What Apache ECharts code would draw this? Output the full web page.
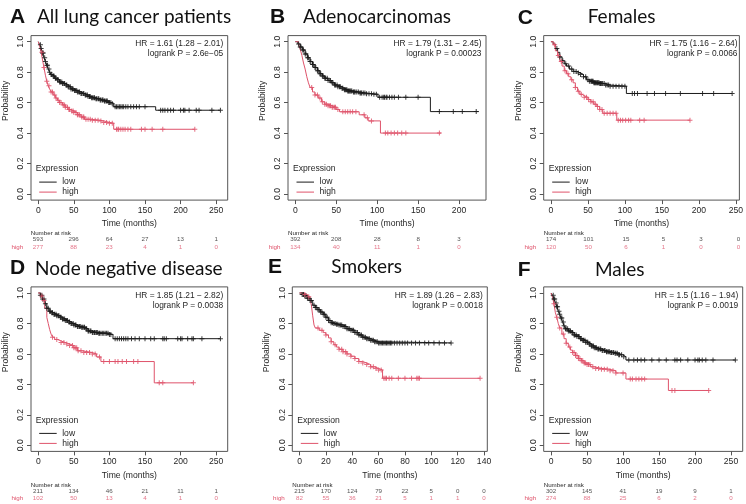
<!DOCTYPE html>
<html><head><meta charset="utf-8">
<script src="https://cdn.jsdelivr.net/npm/echarts@6/dist/echarts.min.js"></script>
<style>html,body{margin:0;padding:0;background:#fff}#c{width:746px;height:504px}</style>
</head><body><div id="c"></div>
<script>
// ---------------- DATA ----------------
const ticks250 = [0, 50, 100, 150, 200, 250];
const ticks200 = [0, 50, 100, 150, 200];
const ticks140 = [0, 20, 40, 60, 80, 100, 120, 140];
const probTicks = [0, 0.2, 0.4, 0.6, 0.8, 1.0];

// A: All lung cancer patients
const aLow = [[0,1],[2,0.98],[4,0.955],[6,0.925],[8,0.895],[10,0.87],[12,0.845],[14,0.82],[16,0.80],[18,0.785],[20,0.775],[23,0.76],[26,0.75],[30,0.735],[34,0.725],[38,0.715],[42,0.705],[46,0.69],[50,0.68],[55,0.67],[60,0.66],[65,0.65],[70,0.64],[75,0.632],[80,0.625],[86,0.617],[92,0.61],[98,0.60],[103,0.593],[106,0.573],[165,0.55],[256,0.55]];
const aHigh = [[0,1],[2,0.97],[4,0.93],[6,0.88],[8,0.83],[10,0.78],[12,0.74],[14,0.71],[16,0.69],[18,0.67],[21,0.65],[24,0.63],[27,0.615],[30,0.60],[34,0.585],[38,0.57],[42,0.555],[46,0.545],[50,0.535],[55,0.52],[60,0.505],[65,0.49],[75,0.485],[85,0.48],[92,0.47],[100,0.465],[106,0.425],[220,0.425]];
const aLowCens = [3,4,6,7,9,10,12,13,15,16,18,19,21,22,24,25,27,28,30,31,33,34,36,37,39,40,42,43,45,46,48,49,51,52,54,55,57,58,60,61,63,64,66,67,69,70,72,73,75,76,78,79,81,82,84,85,87,88,90,91,93,94,96,97,99,100,102,104,108,110,112,114,116,118,120,123,126,130,134,138,142,150,172,175,178,182,186,190,200,204,206,212,222,226,244,256];
const aHighCens = [5,8,12,15,18,20,23,25,28,30,32,35,37,38,41,43,44,47,49,50,53,55,56,58,61,63,64,67,70,73,76,80,84,88,92,96,100,104,110,112,113,116,119,122,126,130,145,150,160,175,220];
const aRiskT = [0, 50, 100, 150, 200, 250];
const aRiskLow = [593, 296, 64, 27, 13, 1];
const aRiskHigh = [277, 88, 23, 4, 1, 0];

// B: Adenocarcinomas
const bLow = [[0,1],[3,0.985],[6,0.965],[9,0.945],[12,0.92],[15,0.895],[18,0.87],[21,0.85],[24,0.83],[27,0.81],[30,0.79],[33,0.775],[36,0.76],[40,0.745],[44,0.73],[48,0.715],[52,0.705],[56,0.695],[60,0.685],[64,0.677],[70,0.67],[78,0.663],[86,0.658],[95,0.655],[101,0.635],[165,0.541],[224,0.541]];
const bHigh = [[0,1],[4,0.98],[6,0.95],[8,0.91],[10,0.86],[12,0.82],[14,0.77],[16,0.73],[18,0.70],[21,0.67],[24,0.65],[28,0.63],[32,0.605],[36,0.59],[40,0.58],[45,0.57],[50,0.555],[54,0.54],[78,0.52],[85,0.50],[89,0.48],[104,0.40],[178,0.40]];
const bLowCens = [4,6,7,9,10,12,13,15,16,18,19,21,22,24,25,27,28,30,31,33,34,36,37,39,40,42,43,45,46,48,49,51,52,54,55,57,58,60,61,62,63,64,65,66,67,68,69,71,72,73,75,77,79,80,81,83,85,87,90,93,96,99,103,106,108,109,111,112,115,118,121,126,135,150,176,193,204,221];
const bHighCens = [20,24,27,30,33,36,38,40,42,43,45,46,48,49,52,58,61,64,67,70,74,84,88,93,110,113,117,121,125,130,135,176];
const bRiskT = [0, 50, 100, 150, 200];
const bRiskLow = [392, 208, 28, 8, 3];
const bRiskHigh = [134, 40, 11, 1, 0];

// C: Females
const cLow = [[0,1],[3,0.985],[6,0.955],[9,0.93],[12,0.9],[15,0.875],[18,0.855],[21,0.84],[25,0.82],[30,0.805],[35,0.795],[40,0.785],[44,0.77],[48,0.75],[52,0.74],[58,0.73],[66,0.725],[74,0.715],[80,0.708],[102,0.66],[245,0.66]];
const cHigh = [[0,1],[3,0.98],[6,0.94],[9,0.91],[12,0.87],[15,0.84],[18,0.81],[21,0.79],[24,0.77],[27,0.75],[30,0.73],[33,0.70],[36,0.675],[39,0.655],[42,0.645],[45,0.635],[50,0.62],[54,0.605],[58,0.59],[62,0.575],[66,0.555],[70,0.53],[89,0.485],[188,0.485]];
const cLowCens = [8,12,16,20,24,28,31,34,37,40,44,47,50,52,54,55,56,57,58,59,60,61,62,63,64,65,66,67,68,69,70,72,74,76,78,80,84,88,92,96,100,110,113,117,130,140,155,175,205,220,245];
const cHighCens = [5,10,14,19,23,28,33,37,41,45,48,51,54,57,60,63,66,69,72,76,80,84,88,91,94,97,101,105,108,120,126,188];
const cRiskT = [0, 50, 100, 150, 200, 250];
const cRiskLow = [174, 101, 15, 5, 3, 0];
const cRiskHigh = [120, 50, 6, 1, 0, 0];

// D: Node negative disease
const dLow = [[0,1],[3,0.985],[6,0.96],[9,0.93],[12,0.9],[15,0.88],[18,0.87],[22,0.86],[26,0.85],[30,0.84],[34,0.83],[38,0.82],[42,0.81],[46,0.80],[50,0.79],[55,0.78],[60,0.775],[66,0.765],[70,0.75],[75,0.74],[85,0.735],[100,0.728],[105,0.70],[256,0.70]];
const dHigh = [[0,1],[3,0.98],[6,0.95],[9,0.90],[12,0.84],[14,0.80],[16,0.76],[18,0.73],[20,0.71],[23,0.695],[27,0.685],[32,0.675],[38,0.665],[44,0.655],[50,0.64],[55,0.62],[62,0.61],[75,0.60],[82,0.58],[88,0.55],[163,0.41],[218,0.41]];
const dLowCens = [3,5,6,8,10,12,14,16,17,19,20,22,23,25,26,28,29,31,32,34,35,37,38,40,41,43,44,46,47,49,50,52,53,55,56,58,59,61,62,64,65,67,68,70,71,73,74,76,77,79,80,82,83,85,86,88,90,92,94,96,98,100,102,108,111,114,117,120,123,126,131,136,142,150,158,163,175,177,180,196,200,202,210,216,218,230,256];
const dHighCens = [5,8,20,26,32,36,40,44,48,50,52,54,56,60,64,68,72,76,80,86,92,100,108,112,118,124,134,140,170,175,218];
const dRiskT = [0, 50, 100, 150, 200, 250];
const dRiskLow = [211, 134, 46, 21, 11, 1];
const dRiskHigh = [102, 50, 13, 4, 1, 0];

// E: Smokers
const eLow = [[0,1],[2,0.99],[4,0.98],[6,0.965],[8,0.95],[10,0.92],[12,0.905],[14,0.89],[16,0.875],[18,0.86],[20,0.84],[22,0.82],[24,0.805],[26,0.80],[28,0.795],[30,0.79],[33,0.78],[36,0.765],[39,0.755],[42,0.74],[45,0.725],[48,0.71],[51,0.70],[54,0.69],[57,0.68],[60,0.672],[115,0.672]];
const eHigh = [[0,1],[3,0.99],[6,0.975],[8,0.96],[9,0.92],[10,0.85],[11,0.79],[12,0.77],[15,0.755],[18,0.74],[20,0.725],[22,0.705],[24,0.68],[26,0.66],[28,0.645],[30,0.63],[33,0.615],[36,0.60],[39,0.585],[42,0.57],[45,0.55],[48,0.54],[51,0.53],[54,0.515],[57,0.505],[60,0.495],[63,0.44],[137,0.44]];
const eLowCens = [2,3,4,5,6,7,8,9,11,12,13,14,15,16,17,18,19,20,21,22,23,24,25,26,27,28,29,30,31,32,33,34,35,36,37,38,39,40,41,42,43,44,45,46,47,48,49,50,51,52,53,54,55,56,57,58,59,60,61,62,63,64,65,66,67,68,69,70,72,74,76,78,80,82,85,88,91,95,98,102,106,110,115];
const eHighCens = [4,7,14,17,20,24,27,30,32,33,35,36,39,42,45,48,51,54,56,58,60,62,64,65,66,68,70,75,80,85,89,90,91,137];
const eRiskT = [0, 20, 40, 60, 80, 100, 120, 140];
const eRiskLow = [215, 170, 124, 79, 22, 5, 0, 0];
const eRiskHigh = [82, 55, 36, 21, 5, 1, 1, 0];

// F: Males
const fLow = [[0,1],[2,0.985],[4,0.96],[6,0.935],[8,0.91],[10,0.88],[12,0.86],[14,0.835],[16,0.81],[18,0.785],[20,0.765],[24,0.75],[28,0.74],[32,0.725],[36,0.715],[40,0.70],[44,0.69],[48,0.677],[52,0.665],[56,0.652],[60,0.64],[64,0.633],[70,0.623],[76,0.615],[82,0.61],[88,0.604],[94,0.595],[99,0.582],[104,0.56],[256,0.56]];
const fHigh = [[0,1],[2,0.97],[4,0.93],[6,0.87],[8,0.84],[10,0.80],[12,0.77],[15,0.73],[18,0.70],[21,0.67],[24,0.645],[27,0.625],[30,0.61],[34,0.59],[38,0.57],[42,0.555],[46,0.54],[50,0.53],[55,0.515],[60,0.505],[70,0.50],[80,0.49],[90,0.475],[104,0.435],[163,0.36],[219,0.36]];
const fLowCens = [3,4,5,7,8,9,11,12,14,15,17,18,20,21,23,24,26,27,29,30,32,33,35,36,38,39,41,42,44,45,47,48,50,51,53,54,56,57,59,60,62,63,65,66,68,69,71,72,74,75,77,78,80,81,83,84,86,87,89,90,92,94,95,98,101,108,115,120,125,130,140,150,160,172,175,180,190,200,204,206,210,215,225,256];
const fHighCens = [4,8,12,17,21,26,30,32,34,36,38,40,42,44,46,48,50,52,54,58,62,66,70,74,78,82,86,90,100,110,113,118,122,126,130,168,172,219];
const fRiskT = [0, 50, 100, 150, 200, 250];
const fRiskLow = [302, 145, 41, 19, 9, 1];
const fRiskHigh = [274, 88, 25, 6, 2, 0];

const panelLetters = ['A', 'B', 'C', 'D', 'E', 'F'];
const panelTitles = ['All lung cancer patients', 'Adenocarcinomas', 'Females', 'Node negative disease', 'Smokers', 'Males'];
const hrTexts = ['HR = 1.61 (1.28 − 2.01)', 'HR = 1.79 (1.31 − 2.45)', 'HR = 1.75 (1.16 − 2.64)', 'HR = 1.85 (1.21 − 2.82)', 'HR = 1.89 (1.26 − 2.83)', 'HR = 1.5 (1.16 − 1.94)'];
const pTexts = ['logrank P = 2.6e−05', 'logrank P = 0.00023', 'logrank P = 0.0066', 'logrank P = 0.0038', 'logrank P = 0.0018', 'logrank P = 0.0019'];

// ---------------- BUILD ----------------
const RED = '#DF536B', BLK = '#1a1a1a', TXT = '#262626', BOXC = '#555';
const FONT = '"Liberation Sans", Arial, sans-serif';
const TFONT = 'Lato, "Open Sans", sans-serif';

const panels = [
  {low:aLow, high:aHigh, lc:aLowCens, hc:aHighCens, rt:aRiskT, rl:aRiskLow, rh:aRiskHigh, ticks:ticks250},
  {low:bLow, high:bHigh, lc:bLowCens, hc:bHighCens, rt:bRiskT, rl:bRiskLow, rh:bRiskHigh, ticks:ticks200},
  {low:cLow, high:cHigh, lc:cLowCens, hc:cHighCens, rt:cRiskT, rl:cRiskLow, rh:cRiskHigh, ticks:ticks250},
  {low:dLow, high:dHigh, lc:dLowCens, hc:dHighCens, rt:dRiskT, rl:dRiskLow, rh:dRiskHigh, ticks:ticks250},
  {low:eLow, high:eHigh, lc:eLowCens, hc:eHighCens, rt:eRiskT, rl:eRiskLow, rh:eRiskHigh, ticks:ticks140},
  {low:fLow, high:fHigh, lc:fLowCens, hc:fHighCens, rt:fRiskT, rl:fRiskLow, rh:fRiskHigh, ticks:ticks250}
];
// layout (pixels)
const boxes = [
  {l:30.7, r:227.7, row:0, lx:10, ly:17, tx:37, ty:17},
  {l:288, r:486, row:0, lx:270, ly:17, tx:303, ty:17},
  {l:543.7, r:742, row:0, lx:517.7, ly:18, tx:587.7, ty:17},
  {l:30.7, r:227.7, row:1, lx:10, ly:268.7, tx:35, ty:268.7},
  {l:292.3, r:487.3, row:1, lx:268, ly:267, tx:331.3, ty:267},
  {l:543.7, r:742.7, row:1, lx:517.7, ly:270, tx:595, ty:270}
];
const rows = [
  {top:35.6, bottom:200.1, nr:233.5, low:239.5, high:247},
  {top:286.9, bottom:451.4, nr:485, low:491.3, high:498.7}
];

function stepAt(curve, t) {
  let y = curve[0][1];
  for (const p of curve) { if (p[0] <= t) y = p[1]; else break; }
  return y;
}
const PLUS = 'path://M4,0H6V4H10V6H6V10H4V6H0V4H4Z';

const grid = [], xAxis = [], yAxis = [], series = [], graphic = [];
function txt(x, y, s, size, align) {
  return {type: 'text', x: x, y: y, silent: true,
    style: {text: s, fontSize: size, fontFamily: FONT, fill: TXT, verticalAlign: 'middle', align: align || 'left'}};
}
panels.forEach((p, i) => {
  const b = boxes[i], rw = rows[b.row];
  const dmax = Math.max(p.low[p.low.length - 1][0], p.high[p.high.length - 1][0]);
  const xmin = -0.04 * dmax, xmax = dmax * 1.04;
  const gi = 2 * i, ri = 2 * i + 1;
  grid.push({left: b.l, top: rw.top, width: b.r - b.l, height: rw.bottom - rw.top, show: true, borderColor: BOXC, borderWidth: 1, backgroundColor: 'transparent'});
  const rh = rw.high - rw.low;
  grid.push({left: b.l, top: rw.low - rh / 2, width: b.r - b.l, height: rh * 2});
  xAxis.push({type: 'value', gridIndex: gi, min: xmin, max: xmax, position: 'bottom',
    axisLine: {show: false, onZero: false}, splitLine: {show: false},
    axisTick: {show: true, length: 4, customValues: p.ticks, lineStyle: {color: BOXC}},
    axisLabel: {customValues: p.ticks, fontSize: 8.6, color: TXT, margin: 6, fontFamily: FONT},
    name: 'Time (months)', nameLocation: 'middle', nameGap: 19.5,
    nameTextStyle: {fontSize: 8.6, color: TXT, fontFamily: FONT}});
  xAxis.push({type: 'value', gridIndex: ri, min: xmin, max: xmax, show: false, axisLine: {onZero: false}});
  yAxis.push({type: 'value', gridIndex: gi, min: -0.04, max: 1.04, position: 'left',
    axisLine: {show: false, onZero: false}, splitLine: {show: false},
    axisTick: {show: true, length: 4, customValues: probTicks, lineStyle: {color: BOXC}},
    axisLabel: {customValues: probTicks, rotate: 90, fontSize: 8.6, color: TXT, margin: 5.5, fontFamily: FONT,
      formatter: v => Number(v).toFixed(1)},
    name: 'Probability', nameLocation: 'middle', nameGap: 21, nameRotate: 90,
    nameTextStyle: {fontSize: 8.6, color: TXT, fontFamily: FONT, padding: [0, 0, 0, 34]}});
  yAxis.push({type: 'category', gridIndex: ri, data: ['high', 'low'],
    axisLine: {show: false, onZero: false}, axisTick: {show: false}, splitLine: {show: false},
    axisLabel: {margin: 7.5, fontSize: 6.2, fontFamily: FONT,
      formatter: v => v === 'low' ? '{l|low}' : '{h|high}',
      rich: {l: {color: TXT, fontSize: 6.2, fontFamily: FONT}, h: {color: RED, fontSize: 6.2, fontFamily: FONT}}}});

  [['low', p.low, p.lc, BLK], ['high', p.high, p.hc, RED]].forEach(([nm, curve, cens, col]) => {
    series.push({type: 'line', name: nm, xAxisIndex: gi, yAxisIndex: gi, data: curve, step: 'end',
      showSymbol: false, symbol: 'none', lineStyle: {color: col, width: 1}, silent: true, z: 2});
    series.push({type: 'scatter', name: nm, xAxisIndex: gi, yAxisIndex: gi,
      data: cens.map(t => [t, stepAt(curve, t)]), symbol: PLUS, symbolSize: 5, symbolKeepAspect: true,
      itemStyle: {color: col, opacity: 0.85}, silent: true, z: 3});
  });
  [['low', p.rl, TXT], ['high', p.rh, RED]].forEach(([nm, vals, col]) => {
    series.push({type: 'scatter', xAxisIndex: ri, yAxisIndex: ri,
      data: p.rt.map((t, j) => [t, nm, vals[j]]), symbolSize: 1, itemStyle: {color: 'rgba(0,0,0,0)'},
      label: {show: true, position: 'inside', formatter: q => String(q.value[2]), fontSize: 6.2, color: col, fontFamily: FONT},
      silent: true});
  });

  // titles
  graphic.push({type: 'text', x: b.lx, y: b.ly, silent: true, style: {text: panelLetters[i], fontSize: 21, fontWeight: 'bold', fontFamily: FONT, fill: '#111', verticalAlign: 'middle', align: 'left'}});
  graphic.push({type: 'text', x: b.tx, y: b.ty, silent: true, style: {text: panelTitles[i], fontSize: 19, fontFamily: TFONT, fill: '#111', verticalAlign: 'middle', align: 'left'}});
  // HR
  graphic.push(txt(b.r - 4.5, rw.top + 8.5, hrTexts[i], 8.4, 'right'));
  graphic.push(txt(b.r - 4.5, rw.top + 18.5, pTexts[i], 8.4, 'right'));
  // legend
  graphic.push(txt(b.l + 5, rw.bottom - 31, 'Expression', 8.6));
  graphic.push({type: 'line', silent: true, shape: {x1: b.l + 8.5, y1: rw.bottom - 18, x2: b.l + 26, y2: rw.bottom - 18}, style: {stroke: BLK, lineWidth: 1}});
  graphic.push({type: 'line', silent: true, shape: {x1: b.l + 8.5, y1: rw.bottom - 8, x2: b.l + 26, y2: rw.bottom - 8}, style: {stroke: RED, lineWidth: 1}});
  graphic.push(txt(b.l + 31.5, rw.bottom - 18, 'low', 8.6));
  graphic.push(txt(b.l + 31.5, rw.bottom - 8, 'high', 8.6));
  // number at risk
  graphic.push(txt(b.l, rw.nr, 'Number at risk', 6.2));
});

const chart = echarts.init(document.getElementById('c'), null, {renderer: 'canvas'});
chart.setOption({animation: false, backgroundColor: '#fff', textStyle: {fontFamily: FONT},
  grid, xAxis, yAxis, series, graphic});
</script></body></html>
